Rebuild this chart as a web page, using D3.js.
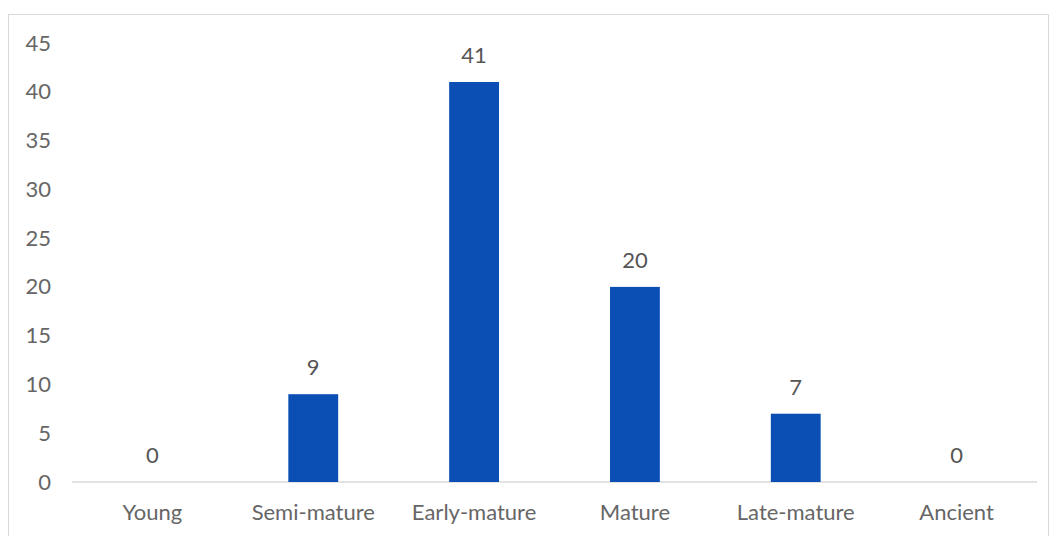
<!DOCTYPE html>
<html><head><meta charset="utf-8">
<script src="https://cdn.jsdelivr.net/npm/d3@7"></script>
<style>body{margin:0;background:#fff;}svg{display:block;}text{font-family:Lato,"Open Sans",sans-serif;}</style>
</head><body>
<svg id="c" width="1053" height="536"></svg>
<script>
const categories = ["Young","Semi-mature","Early-mature","Mature","Late-mature","Ancient"];
const values = [0,9,41,20,7,0];
const yTicks = [0,5,10,15,20,25,30,35,40,45];

const svg = d3.select("#c");
const W = 1053, H = 536;
const FS = 22;
const m = {left:72, right:16, top:43, bottom:54};
const x = d3.scaleBand().domain(categories).range([m.left, W - m.right]).paddingInner(0.69).paddingOuter(0.345);
const y = d3.scaleLinear().domain([0,45]).range([H - m.bottom, m.top]);

// chart border
svg.append("rect").attr("x",8.5).attr("y",14.5).attr("width",1040).attr("height",530)
  .attr("fill","none").attr("stroke","#d9d9d9").attr("stroke-width",1);

// y axis labels
const yAxis = d3.axisLeft(y).tickValues(yTicks).tickSize(0).tickPadding(0);
const gy = svg.append("g").attr("transform",`translate(51,0)`).call(yAxis);
gy.select(".domain").remove();
gy.selectAll("text").attr("font-size",FS).attr("fill","#666666").attr("font-family","Lato,'Open Sans',sans-serif");

// baseline
svg.append("line").attr("x1",m.left).attr("x2",W - m.right).attr("y1",y(0)).attr("y2",y(0))
  .attr("stroke","#d9d9d9").attr("stroke-width",1.5);

// x axis labels
const xAxis = d3.axisBottom(x).tickSize(0).tickPadding(22);
const gx = svg.append("g").attr("transform",`translate(0,${y(0)})`).call(xAxis);
gx.select(".domain").remove();
gx.selectAll("text").attr("font-size",FS).attr("fill","#666666").attr("font-family","Lato,'Open Sans',sans-serif");

// bars
svg.selectAll("rect.bar").data(values).join("rect").attr("class","bar")
  .attr("x",(d,i)=>x(categories[i])).attr("width",x.bandwidth())
  .attr("y",d=>y(d)).attr("height",d=>y(0)-y(d)).attr("fill","#0b4fb5");

// value labels
svg.selectAll("text.val").data(values).join("text").attr("class","val")
  .attr("x",(d,i)=>x(categories[i])+x.bandwidth()/2).attr("y",d=>y(d)-19)
  .attr("text-anchor","middle").attr("font-size",FS).attr("fill","#555555")
  .text(d=>d);
</script>
</body></html>
